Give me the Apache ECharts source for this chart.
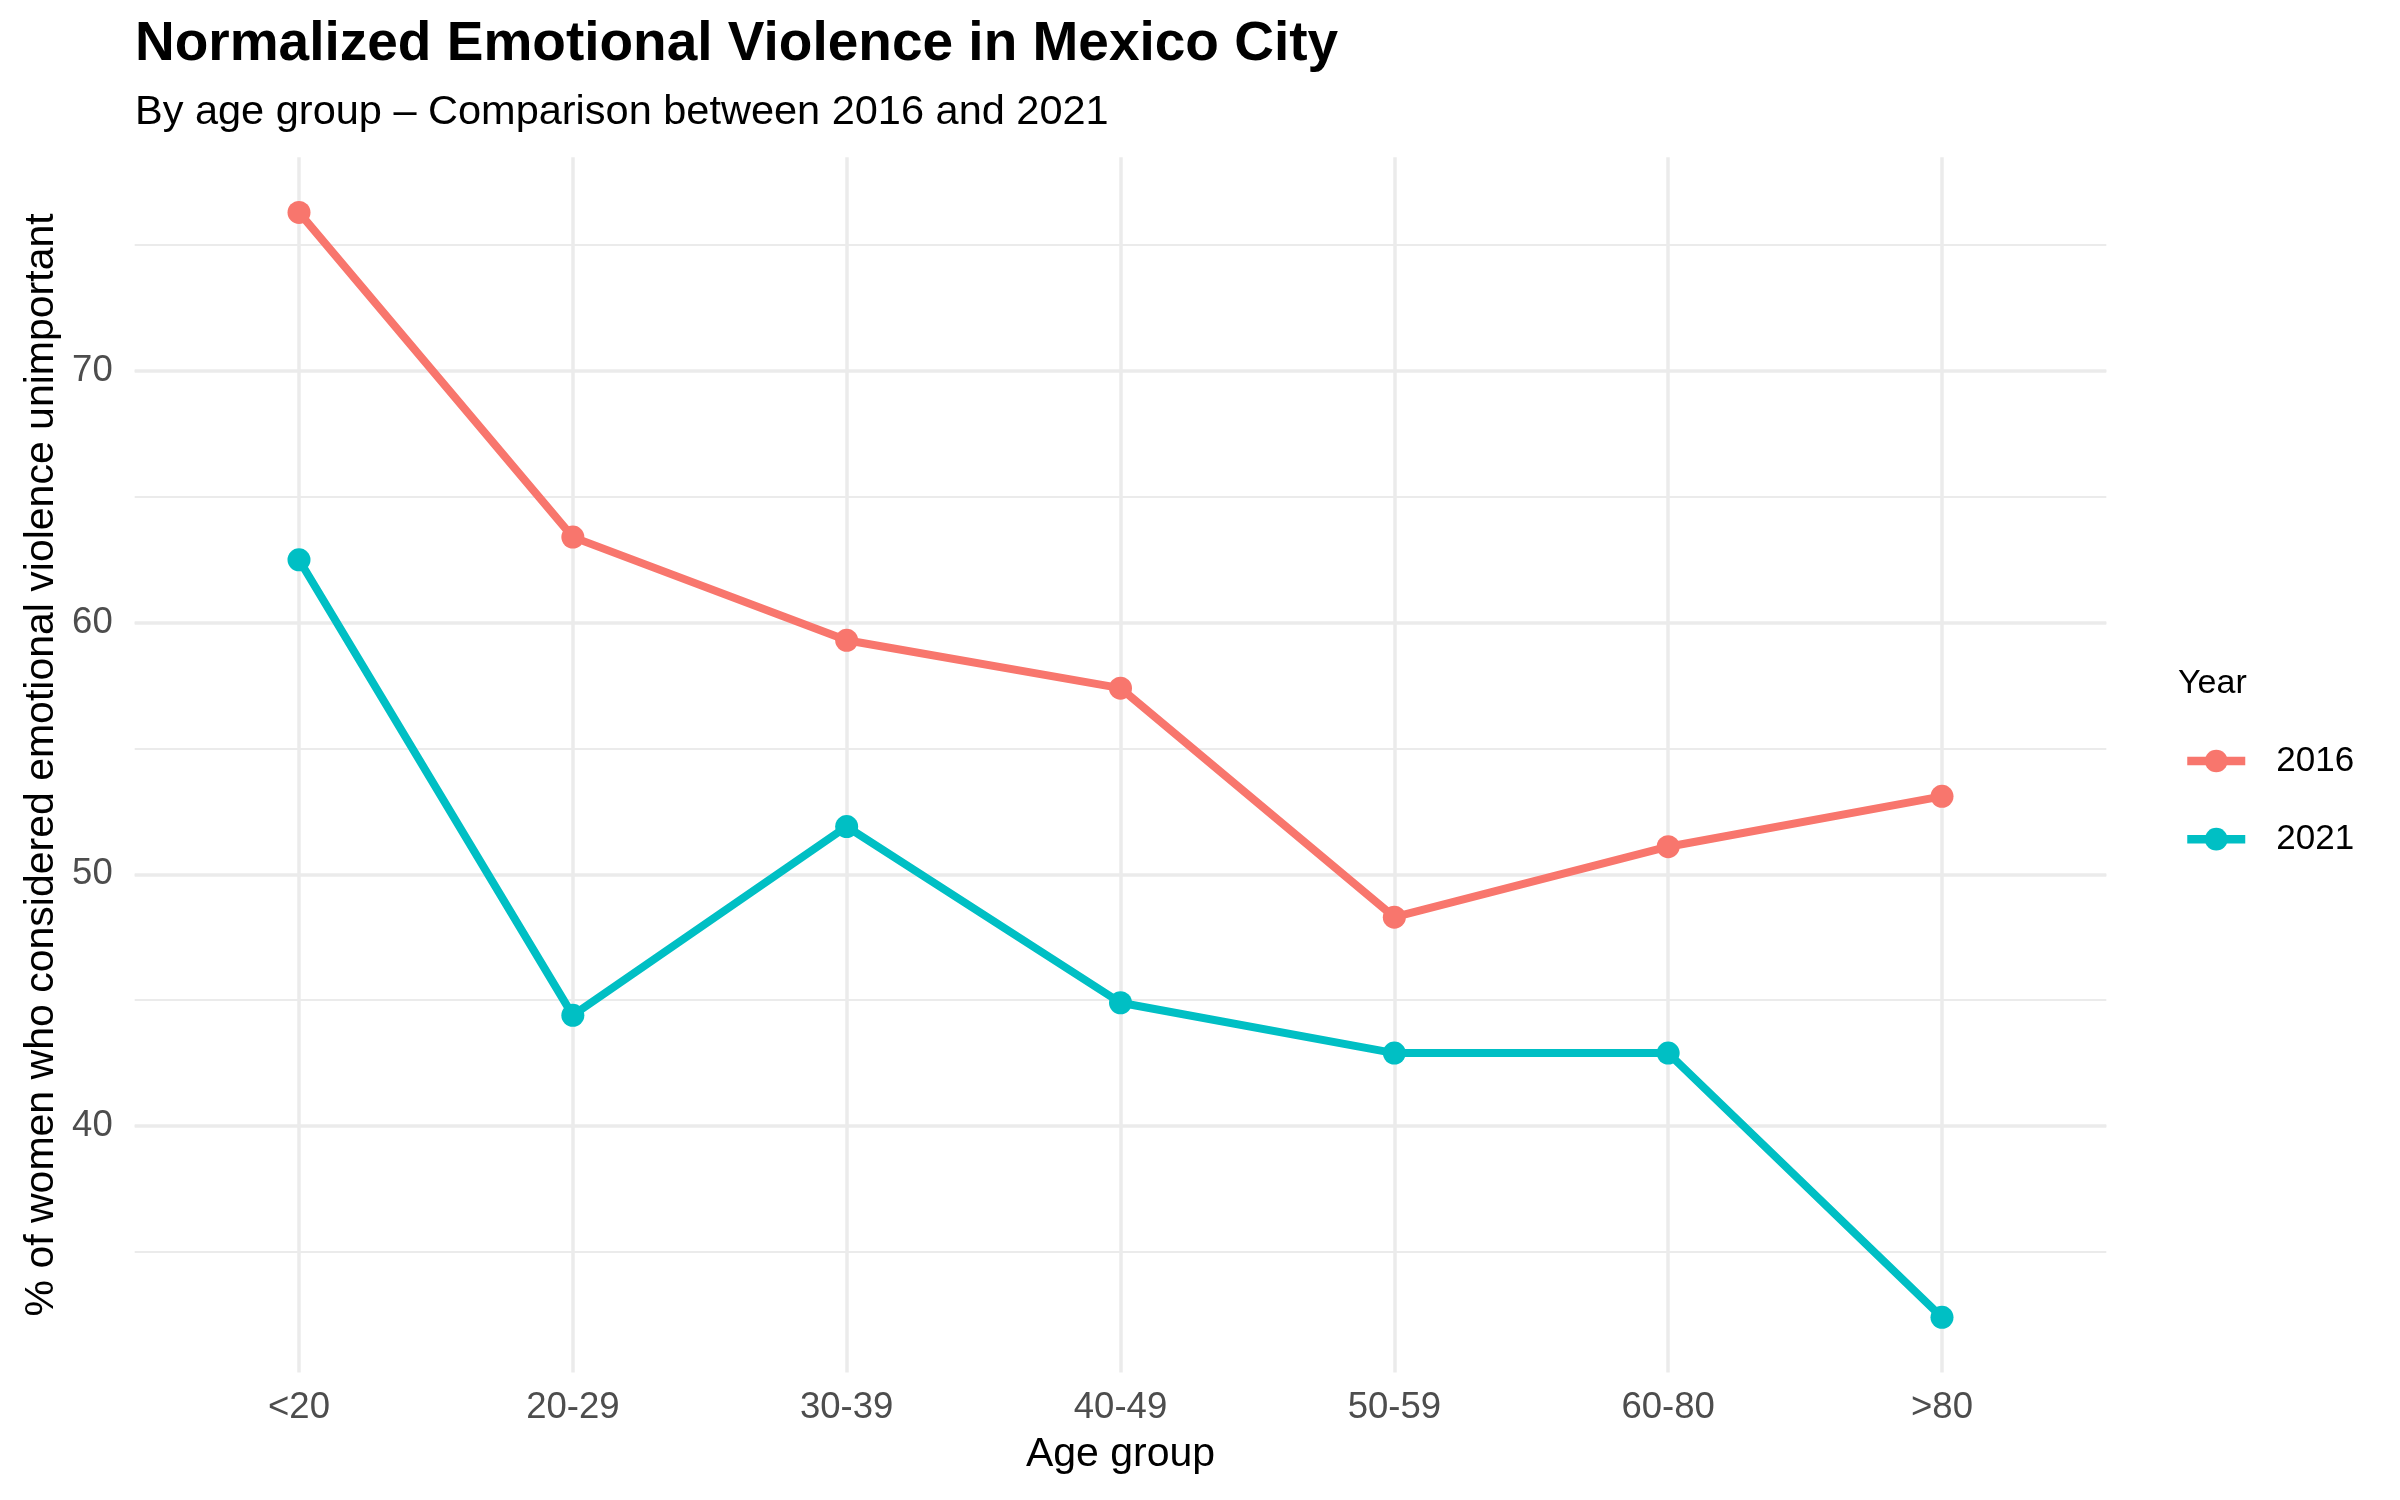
<!DOCTYPE html>
<html lang="en">
<head>
    <meta charset="utf-8">
    <title>Normalized Emotional Violence in Mexico City</title>
    <script src="https://cdn.jsdelivr.net/npm/echarts@6/dist/echarts.min.js"></script>
    <style>
        html, body { margin: 0; padding: 0; background: #fff; }
    </style>
</head>
<body>
    <div id="main" style="width:2400px;height:1500px;"></div>

    <script type="text/javascript">
    // data
    var ageGroups = ['<20', '20-29', '30-39', '40-49', '50-59', '60-80', '>80'];
    var years = ['2016', '2021'];
    var values2016 = [76.3, 63.4, 59.3, 57.4, 48.3, 51.1, 53.1];
    var values2021 = [62.5, 44.4, 51.9, 44.9, 42.9, 42.9, 32.4];
    var yTicks = [40, 50, 60, 70];

    var FONT = '"Liberation Sans", Arial, sans-serif';
    var GRID = '#EBEBEB';
    var colors = ['#F8766D', '#00BFC4'];

    // ggplot style 5% expansion of the data range
    var all = values2016.concat(values2021);
    var dMin = Math.min.apply(null, all), dMax = Math.max.apply(null, all);
    var pad = (dMax - dMin) * 0.05;
    var yLo = dMin - pad, yHi = dMax + pad;

    // panel geometry (pixels)
    var panelTop = 157.2, panelBottom = 1372.6;
    var panelLeft = 134.7, panelRight = 2106.3;
    var pxPerUnit = (panelBottom - panelTop) / (yHi - yLo);
    var firstX = 299, lastX = 1942;

    // grid 0 spans 30..80 so that gridlines at multiples of 5 line up with the panel
    var g0Top = panelTop - (80 - yHi) * pxPerUnit;
    var g0Bottom = panelBottom + (yLo - 30) * pxPerUnit;

    var myChart = echarts.init(document.getElementById('main'));

    myChart.setOption({
        backgroundColor: '#fff',
        animation: false,
        color: colors,
        textStyle: { fontFamily: FONT },
        title: [{
            text: 'Normalized Emotional Violence in Mexico City',
            left: 135, top: 17, padding: 0,
            textStyle: { fontFamily: FONT, fontSize: 55, fontWeight: 'bold', color: '#000', lineHeight: 55 }
        }, {
            text: 'By age group \u2013 Comparison between 2016 and 2021',
            left: 135, top: 92, padding: 0,
            textStyle: { fontFamily: FONT, fontSize: 41.5, fontWeight: 'normal', color: '#000', lineHeight: 41.5 }
        }, {
            text: 'Year',
            left: 2178, top: 667, padding: 0,
            textStyle: { fontFamily: FONT, fontSize: 34, fontWeight: 'normal', color: '#000', lineHeight: 34 }
        }],
        legend: {
            data: years,
            orient: 'vertical',
            left: 2183, top: 743.5,
            padding: 0,
            itemWidth: 58,
            itemHeight: 28.4,
            itemGap: 43.2,
            lineStyle: { width: 8.5 },
            textStyle: { fontFamily: FONT, fontSize: 35, color: '#000', padding: [0, 0, 0, 26] }
        },
        grid: [{
            left: panelLeft, right: 2400 - panelRight,
            top: g0Top, bottom: 1500 - g0Bottom
        }, {
            left: firstX, right: 2400 - lastX,
            top: panelTop, bottom: 1500 - panelBottom
        }],
        xAxis: [{
            gridIndex: 0, type: 'value', min: 0, max: 1, show: false
        }, {
            gridIndex: 1,
            type: 'category',
            data: ageGroups,
            boundaryGap: false,
            name: 'Age group',
            nameLocation: 'middle',
            nameGap: 62,
            nameTextStyle: { fontFamily: FONT, fontSize: 41, color: '#000', lineHeight: 41 },
            axisLine: { show: false },
            axisTick: { show: false },
            axisLabel: { fontFamily: FONT, fontSize: 36.5, color: '#4D4D4D', margin: 17, lineHeight: 36.5 },
            splitLine: { show: true, lineStyle: { color: GRID, width: 3.5 } }
        }],
        yAxis: [{
            // major gridlines + labels
            gridIndex: 0, type: 'value', min: 30, max: 80, interval: 10,
            axisLine: { show: false },
            axisTick: { show: false },
            axisLabel: {
                fontFamily: FONT, fontSize: 36.5, color: '#4D4D4D', margin: 22,
                showMinLabel: false, showMaxLabel: false,
                formatter: function (v) { return yTicks.indexOf(v) >= 0 ? String(v) : ''; }
            },
            splitLine: { show: true, showMinLine: false, showMaxLine: false, lineStyle: { color: GRID, width: 3.5 } }
        }, {
            // minor gridlines
            gridIndex: 0, type: 'value', min: 30, max: 80, interval: 5,
            position: 'left',
            axisLine: { show: false },
            axisTick: { show: false },
            axisLabel: { show: false },
            splitLine: { show: true, showMinLine: false, showMaxLine: false, lineStyle: { color: GRID, width: 2 } }
        }, {
            // axis carrying the series, spans the panel exactly
            gridIndex: 1, type: 'value', min: yLo, max: yHi,
            name: '% of women who considered emotional violence unimportant',
            nameLocation: 'middle',
            nameRotate: 90,
            nameGap: 236.5,
            nameTextStyle: { fontFamily: FONT, fontSize: 41, color: '#000', lineHeight: 41 },
            axisLine: { show: false },
            axisTick: { show: false },
            axisLabel: { show: false },
            splitLine: { show: false }
        }],
        series: [{
            name: '2016',
            type: 'line',
            xAxisIndex: 1, yAxisIndex: 2,
            data: values2016,
            symbol: 'circle',
            symbolSize: 23,
            lineStyle: { width: 8, color: colors[0] },
            itemStyle: { color: colors[0] },
            z: 3
        }, {
            name: '2021',
            type: 'line',
            xAxisIndex: 1, yAxisIndex: 2,
            data: values2021,
            symbol: 'circle',
            symbolSize: 23,
            lineStyle: { width: 8, color: colors[1] },
            itemStyle: { color: colors[1] },
            z: 3
        }]
    });
    </script>
</body>
</html>
